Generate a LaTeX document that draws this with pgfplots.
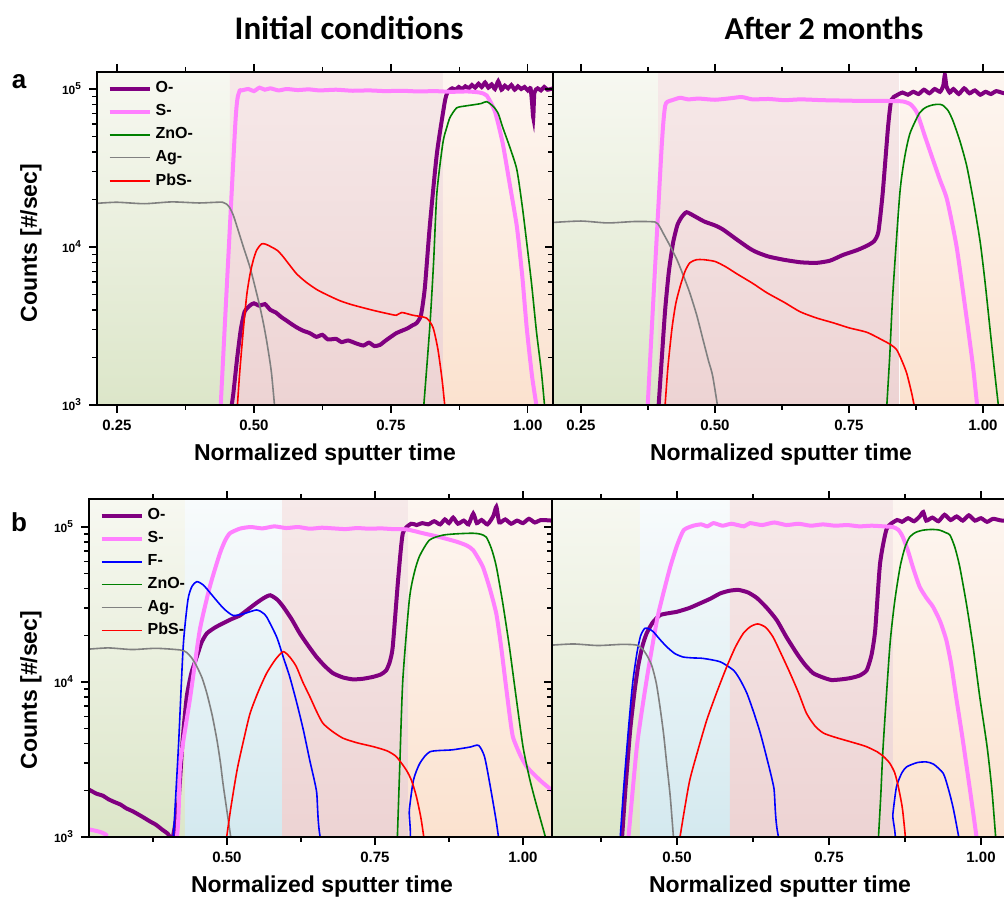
\documentclass[border=0pt]{standalone}
\usepackage{pgfplots}
\pgfplotsset{compat=1.18}
\usepackage{fontspec}
\setmainfont{Liberation Sans}
\newfontfamily\carlito{Carlito}

\definecolor{cO}{HTML}{800080}
\definecolor{cS}{HTML}{FF80FF}
\definecolor{cF}{HTML}{0000FF}
\definecolor{cZn}{HTML}{008000}
\definecolor{cAg}{HTML}{808080}
\definecolor{cPb}{HTML}{FF0000}
\definecolor{gTop}{HTML}{F7F8F1}\definecolor{gBot}{HTML}{DCE6C9}
\definecolor{pTop}{HTML}{F6E9E9}\definecolor{pBot}{HTML}{EDD3D3}
\definecolor{oTop}{HTML}{FDF6F1}\definecolor{oBot}{HTML}{FBE2CF}
\definecolor{bTop}{HTML}{F8FBFC}\definecolor{bBot}{HTML}{D4E9EF}

\pgfplotsset{
  sims panel/.style={
    scale only axis, ymin=1000, axis on top,
    tick align=outside, xtick pos=both, ytick pos=left,
    xticklabel pos=lower,
    xtick={0.25,0.5,0.75,1}, minor xtick={0.125,0.375,0.625,0.875},
    xticklabels={0.25,0.50,0.75,1.00},
    ytick={1000,10000,100000},
    minor ytick={2000,3000,4000,5000,6000,7000,8000,9000,20000,30000,40000,50000,60000,70000,80000,90000,200000},
    yticklabels={10\textsuperscript{3},10\textsuperscript{4},10\textsuperscript{5}},
    major tick length=4pt, minor tick length=2.5pt,
    tick style={black, line width=0.65pt},
    axis line style={line width=1pt},
    xticklabel style={font=\fontsize{7.5}{8}\selectfont\bfseries},
    yticklabel style={font=\fontsize{6}{7}\selectfont\bfseries},
    legend style={draw=none, fill=none, font=\fontsize{8}{9}\selectfont\bfseries,
      at={(0.018,0.99)}, anchor=north west, row sep=0.4pt, inner sep=1pt},
    legend cell align=left,
  },
}
\tikzset{
  pO/.style={cO, line width=2pt, smooth, tension=0.35},
  pS/.style={cS, line width=2pt, smooth, tension=0.35},
  pF/.style={cF, line width=0.8pt, smooth, tension=0.4},
  pZn/.style={cZn, line width=0.8pt, smooth, tension=0.4},
  pAg/.style={cAg, line width=0.8pt, smooth, tension=0.4},
  pPb/.style={cPb, line width=0.8pt, smooth, tension=0.4},
  bgG/.style={draw=none, top color=gTop, bottom color=gBot},
  bgP/.style={draw=none, top color=pTop, bottom color=pBot},
  bgO/.style={draw=none, top color=oTop, bottom color=oBot},
  bgB/.style={draw=none, top color=bTop, bottom color=bBot},
}

\begin{document}
\begin{tikzpicture}
\path[use as bounding box] (0,0) rectangle (502pt,449pt);

% ---------------- a, initial
\begin{axis}[sims panel, ymode=log, at={(48.5pt,246.5pt)}, anchor=south west,
  width=228pt, height=166.5pt, xmin=0.2135, xmax=1.046, ymax=128200,
  legend image code/.code={\draw[#1] (0pt,0pt) -- (20pt,0pt);}]
\addplot[bgG, forget plot] coordinates {(0.2135,1000) (0.2135,128200) (0.456,128200) (0.456,1000)};
\addplot[bgP, forget plot] coordinates {(0.456,1000) (0.456,128200) (0.845,128200) (0.845,1000)};
\addplot[bgO, forget plot] coordinates {(0.845,1000) (0.845,128200) (1.046,128200) (1.046,1000)};
\addplot[pO] coordinates {(0.455,800) (0.462,1150) (0.469,1930) (0.476,3000) (0.483,3900) (0.493,4270) (0.50,4400) (0.51,4250) (0.52,4350) (0.53,4000) (0.54,3850) (0.55,3600) (0.558,3450) (0.566,3300) (0.578,3100) (0.59,2950) (0.602,2850) (0.614,2700) (0.625,2780) (0.635,2600) (0.65,2620) (0.66,2500) (0.672,2560) (0.687,2450) (0.70,2380) (0.71,2480) (0.72,2360) (0.73,2400) (0.74,2550) (0.75,2700) (0.76,2850) (0.77,2950) (0.78,3050) (0.79,3200) (0.797,3300) (0.805,3700) (0.812,5500) (0.821,13500) (0.834,39000) (0.849,85000) (0.855,97000) (0.862,101000) (0.868,99000) (0.874,103000) (0.880,100000) (0.886,104000) (0.892,101000) (0.898,106000) (0.904,102000) (0.910,108000) (0.916,103000) (0.922,110000) (0.928,102000) (0.934,107000) (0.940,100000) (0.946,112000) (0.952,99000) (0.958,105000) (0.964,101000) (0.970,106000) (0.976,99000) (0.982,104000) (0.988,100000) (0.994,103000) (1.000,98000) (1.005,101000) (1.008,80000) (1.010,66000) (1.012,95000) (1.018,101000) (1.024,98000) (1.030,103000) (1.036,99000) (1.046,101000)};
\addplot[pS] coordinates {(0.438,800) (0.466,60000) (0.473,95500) (0.478,98000) (0.49,100000) (0.50,97000) (0.51,102000) (0.52,99000) (0.53,101000) (0.545,98000) (0.56,100000) (0.58,98500) (0.60,99500) (0.62,98000) (0.65,99000) (0.68,97500) (0.71,98000) (0.74,97000) (0.77,97500) (0.80,96500) (0.83,97000) (0.86,96000) (0.89,96500) (0.912,95000) (0.925,91000) (0.94,72000) (0.954,45700) (0.967,25000) (0.98,13500) (0.99,6500) (0.998,3090) (1.008,1500) (1.02,800)};
\addplot[pZn] coordinates {(0.808,800) (0.821,3090) (0.828,8000) (0.834,21900) (0.845,45700) (0.852,57000) (0.858,66100) (0.870,75900) (0.885,78000) (0.900,79400) (0.915,81000) (0.925,83200) (0.937,77600) (0.946,70000) (0.954,57500) (0.967,43000) (0.980,30900) (0.99,18000) (0.998,10700) (1.007,5800) (1.016,2880) (1.025,1600) (1.033,800)};
\addplot[pAg] coordinates {(0.2135,18900) (0.25,19200) (0.30,18800) (0.35,19300) (0.40,19000) (0.443,19200) (0.4545,18000) (0.462,16000) (0.469,13500) (0.48,10200) (0.493,7400) (0.502,5600) (0.511,4170) (0.518,3200) (0.524,2450) (0.532,1600) (0.540,800)};
\addplot[pPb] coordinates {(0.468,800) (0.474,1600) (0.481,3090) (0.487,5000) (0.493,6760) (0.499,8300) (0.505,9550) (0.514,10470) (0.522,10400) (0.532,10000) (0.543,9500) (0.553,8710) (0.565,7700) (0.578,6760) (0.595,6000) (0.615,5370) (0.635,4950) (0.657,4570) (0.68,4300) (0.717,3980) (0.745,3780) (0.76,3700) (0.77,3850) (0.79,3700) (0.815,3550) (0.827,3090) (0.836,2240) (0.844,1400) (0.851,800)};
\legend{O-,S-,ZnO-,Ag-,PbS-}
\end{axis}

% ---------------- a, after 2 months
\begin{axis}[sims panel, ymode=log, at={(276.5pt,246.5pt)}, anchor=south west,
  width=231.5pt, height=166.5pt, xmin=0.1978, xmax=1.0618, ymax=128200,
  yticklabels={}]
\addplot[bgG, forget plot] coordinates {(0.1978,1000) (0.1978,128200) (0.394,128200) (0.394,1000)};
\addplot[bgP, forget plot] coordinates {(0.394,1000) (0.394,128200) (0.843,128200) (0.843,1000)};
\addplot[bgO, forget plot] coordinates {(0.845,1000) (0.845,128200) (1.0618,128200) (1.0618,1000)};
\addplot[pO] coordinates {(0.393,800) (0.400,1800) (0.407,3980) (0.414,7000) (0.422,10700) (0.430,13800) (0.438,15500) (0.447,16600) (0.46,15800) (0.48,14500) (0.50,13700) (0.515,12900) (0.54,11200) (0.565,9770) (0.58,9200) (0.60,8700) (0.627,8320) (0.66,8000) (0.69,7940) (0.715,8200) (0.739,8910) (0.765,9550) (0.784,10200) (0.797,10900) (0.805,12500) (0.813,21900) (0.823,57500) (0.829,85100) (0.839,91200) (0.85,95000) (0.86,92000) (0.87,96000) (0.88,93000) (0.89,99000) (0.90,94000) (0.91,100000) (0.92,96000) (0.926,105000) (0.929,123000) (0.932,104000) (0.938,95000) (0.945,100000) (0.955,93000) (0.965,101000) (0.975,94000) (0.985,98000) (0.995,92000) (1.005,96000) (1.015,93000) (1.025,97000) (1.04,94000) (1.062,95000)};
\addplot[pS] coordinates {(0.373,800) (0.400,40000) (0.407,78000) (0.415,84000) (0.42,85000) (0.435,88000) (0.45,86000) (0.47,87000) (0.50,85500) (0.53,87500) (0.55,89000) (0.57,86000) (0.60,86500) (0.63,85000) (0.66,86000) (0.70,85000) (0.74,84500) (0.78,84000) (0.82,84000) (0.85,83500) (0.865,80000) (0.877,70800) (0.892,50000) (0.907,35500) (0.92,26500) (0.933,20000) (0.951,10000) (0.970,3470) (0.982,1700) (0.992,800)};
\addplot[pZn] coordinates {(0.819,800) (0.826,2000) (0.832,5130) (0.845,21900) (0.854,37000) (0.864,52500) (0.882,70800) (0.895,77000) (0.907,79400) (0.917,80000) (0.925,79000) (0.935,73000) (0.944,63100) (0.957,47000) (0.970,32400) (0.983,19000) (0.995,10700) (1.004,6000) (1.013,3090) (1.022,1600) (1.032,800)};
\addplot[pAg] coordinates {(0.1978,14300) (0.25,14600) (0.30,14200) (0.35,14500) (0.388,14400) (0.396,13600) (0.403,12300) (0.416,10200) (0.429,8320) (0.441,6600) (0.453,5130) (0.466,3700) (0.478,2570) (0.488,1900) (0.496,1510) (0.509,800)};
\addplot[pPb] coordinates {(0.405,800) (0.412,1700) (0.420,3090) (0.427,4400) (0.435,5620) (0.444,7000) (0.453,7940) (0.465,8300) (0.478,8320) (0.50,8100) (0.52,7500) (0.541,6760) (0.57,5900) (0.597,5130) (0.63,4450) (0.659,3890) (0.69,3550) (0.721,3310) (0.75,3080) (0.784,2880) (0.813,2570) (0.827,2420) (0.839,2240) (0.849,1900) (0.858,1580) (0.868,1150) (0.877,800)};
\end{axis}

% ---------------- b, initial
\begin{axis}[sims panel, ymode=log, at={(44.5pt,30.5pt)}, anchor=south west,
  width=231.5pt, height=169pt, xmin=0.2669, xmax=1.049, ymax=151700,
  legend image code/.code={\draw[#1] (0pt,0pt) -- (20pt,0pt);}]
\addplot[bgG, forget plot] coordinates {(0.2669,1000) (0.2669,151700) (0.429,151700) (0.429,1000)};
\addplot[bgB, forget plot] coordinates {(0.429,1000) (0.429,151700) (0.593,151700) (0.593,1000)};
\addplot[bgP, forget plot] coordinates {(0.593,1000) (0.593,151700) (0.806,151700) (0.806,1000)};
\addplot[bgO, forget plot] coordinates {(0.806,1000) (0.806,151700) (1.049,151700) (1.049,1000)};
\addplot[pO] coordinates {(0.2669,2020) (0.28,1900) (0.29,1850) (0.30,1750) (0.31,1680) (0.32,1620) (0.33,1530) (0.34,1470) (0.35,1400) (0.36,1330) (0.37,1260) (0.38,1200) (0.39,1120) (0.40,1050) (0.408,980) (0.418,1700) (0.425,4200) (0.432,8040) (0.44,11500) (0.449,14550) (0.457,18000) (0.466,20600) (0.48,22500) (0.494,24000) (0.508,25500) (0.522,26900) (0.536,29500) (0.550,32400) (0.562,34800) (0.573,36300) (0.585,34000) (0.595,30600) (0.609,25500) (0.623,20600) (0.637,17200) (0.651,14550) (0.665,12700) (0.679,11400) (0.696,10700) (0.713,10400) (0.730,10500) (0.747,10800) (0.760,11200) (0.769,11900) (0.775,13500) (0.780,16900) (0.789,45500) (0.797,91200) (0.811,105000) (0.82,103000) (0.83,106000) (0.84,104000) (0.85,109000) (0.86,104000) (0.868,112000) (0.875,106000) (0.882,115000) (0.89,105000) (0.90,110000) (0.908,104000) (0.916,122000) (0.922,106000) (0.93,111000) (0.94,104000) (0.95,118000) (0.955,135000) (0.96,107000) (0.97,112000) (0.98,105000) (0.99,110000) (1.00,106000) (1.01,113000) (1.02,107000) (1.03,111000) (1.049,110000)};
\addplot[pS] coordinates {(0.2669,1120) (0.285,1080) (0.296,1030) (0.30,900) (0.409,800) (0.421,2990) (0.438,8040) (0.454,21600) (0.471,41200) (0.488,67600) (0.497,82000) (0.505,91200) (0.522,97700) (0.54,100000) (0.56,98000) (0.58,101000) (0.60,98500) (0.62,100000) (0.64,97500) (0.66,99000) (0.68,98000) (0.70,97000) (0.72,98500) (0.74,97500) (0.76,98000) (0.78,97000) (0.804,96500) (0.831,91200) (0.860,86000) (0.888,80400) (0.905,76000) (0.916,70800) (0.932,55600) (0.944,40000) (0.955,27500) (0.963,17000) (0.970,10300) (0.977,6300) (0.983,4420) (0.995,3400) (1.007,2820) (1.030,2300) (1.049,2000)};
\addplot[pF] coordinates {(0.408,800) (0.418,3830) (0.426,16900) (0.434,33900) (0.441,41500) (0.449,44400) (0.460,42300) (0.477,35500) (0.494,29900) (0.510,26900) (0.527,27500) (0.550,29200) (0.560,28000) (0.567,26300) (0.584,19500) (0.595,14500) (0.606,10800) (0.618,7300) (0.629,4900) (0.640,3100) (0.651,2000) (0.668,800) (0.801,800) (0.808,1500) (0.815,2330) (0.826,3000) (0.843,3550) (0.88,3650) (0.91,3800) (0.925,3900) (0.935,3300) (0.944,2200) (0.955,1250) (0.962,800)};
\addplot[pZn] coordinates {(0.787,800) (0.792,3000) (0.797,10300) (0.808,33900) (0.816,50000) (0.825,64600) (0.842,82400) (0.865,88700) (0.89,90500) (0.915,91200) (0.928,90000) (0.938,86100) (0.947,72000) (0.955,55500) (0.966,32000) (0.977,16900) (0.988,8200) (1.0,3830) (1.011,2400) (1.022,1650) (1.045,800)};
\addplot[pAg] coordinates {(0.2669,16300) (0.30,16600) (0.34,16200) (0.38,16500) (0.421,16100) (0.432,15500) (0.441,14200) (0.449,12600) (0.458,10600) (0.466,8450) (0.475,6100) (0.483,4230) (0.489,3000) (0.494,2110) (0.51,800)};
\addplot[pPb] coordinates {(0.496,800) (0.506,1500) (0.517,2700) (0.528,4200) (0.539,6280) (0.553,8700) (0.567,11400) (0.582,14000) (0.595,15700) (0.606,14500) (0.617,12600) (0.628,10000) (0.640,8040) (0.651,6500) (0.662,5420) (0.678,4800) (0.696,4340) (0.72,4050) (0.747,3830) (0.77,3600) (0.786,3300) (0.803,2700) (0.812,2300) (0.820,1820) (0.828,1300) (0.836,800)};
\legend{O-,S-,F-,ZnO-,Ag-,PbS-}
\end{axis}

% ---------------- b, after 2 months
\begin{axis}[sims panel, ymode=log, at={(276pt,30.5pt)}, anchor=south west,
  width=232pt, height=169pt, xmin=0.2944, xmax=1.0576, ymax=151700,
  yticklabels={}]
\addplot[bgG, forget plot] coordinates {(0.2944,1000) (0.2944,151700) (0.439,151700) (0.439,1000)};
\addplot[bgB, forget plot] coordinates {(0.439,1000) (0.439,151700) (0.587,151700) (0.587,1000)};
\addplot[bgP, forget plot] coordinates {(0.587,1000) (0.587,151700) (0.855,151700) (0.855,1000)};
\addplot[bgO, forget plot] coordinates {(0.855,1000) (0.855,151700) (1.0576,151700) (1.0576,1000)};
\addplot[pO] coordinates {(0.408,800) (0.415,2000) (0.423,4900) (0.430,8600) (0.436,12600) (0.443,17000) (0.450,20600) (0.460,24200) (0.472,27000) (0.486,27800) (0.500,28400) (0.52,30000) (0.538,32200) (0.555,34500) (0.571,37300) (0.586,38800) (0.601,39300) (0.617,37800) (0.632,34700) (0.648,30000) (0.664,25100) (0.680,19500) (0.697,15300) (0.710,13000) (0.724,11400) (0.740,10700) (0.754,10300) (0.770,10400) (0.785,10600) (0.800,11000) (0.812,11900) (0.820,15000) (0.826,21600) (0.834,58300) (0.845,97700) (0.862,111000) (0.87,108000) (0.88,114000) (0.89,109000) (0.90,118000) (0.905,125000) (0.91,110000) (0.92,115000) (0.93,109000) (0.94,120000) (0.95,111000) (0.96,117000) (0.97,110000) (0.98,119000) (0.99,110000) (1.00,114000) (1.01,108000) (1.02,113000) (1.035,110000) (1.0576,112000)};
\addplot[pS] coordinates {(0.418,800) (0.434,3830) (0.450,10300) (0.467,25100) (0.478,38000) (0.489,55500) (0.50,76000) (0.511,95500) (0.527,102000) (0.54,104000) (0.55,101000) (0.56,106000) (0.575,102000) (0.59,105000) (0.61,101000) (0.62,106000) (0.64,103000) (0.66,107000) (0.68,103000) (0.70,105000) (0.72,102000) (0.74,104000) (0.76,102000) (0.78,103000) (0.80,101000) (0.82,102000) (0.84,101000) (0.855,100000) (0.864,96000) (0.871,87000) (0.880,70000) (0.888,55000) (0.899,41200) (0.91,35000) (0.921,30600) (0.933,24500) (0.943,18600) (0.951,13000) (0.959,8040) (0.969,4500) (0.978,2570) (0.987,1450) (0.996,800)};
\addplot[pF] coordinates {(0.405,800) (0.412,2000) (0.420,4900) (0.427,9800) (0.434,15300) (0.440,19800) (0.447,22200) (0.454,22000) (0.461,21100) (0.472,18800) (0.483,16900) (0.496,15300) (0.510,14500) (0.527,14300) (0.543,14200) (0.571,13500) (0.593,11900) (0.604,10300) (0.615,8450) (0.626,6400) (0.637,4680) (0.648,3200) (0.659,2110) (0.68,800) (0.849,800) (0.855,1400) (0.861,2110) (0.870,2600) (0.878,2840) (0.895,3020) (0.91,3050) (0.922,2950) (0.938,2570) (0.947,2000) (0.955,1490) (0.968,800)};
\addplot[pZn] coordinates {(0.830,800) (0.835,1800) (0.839,3830) (0.850,16900) (0.858,33000) (0.867,55500) (0.875,74000) (0.883,86500) (0.893,92500) (0.905,95500) (0.92,96500) (0.932,95500) (0.942,92000) (0.949,88700) (0.957,74000) (0.965,55500) (0.976,32000) (0.987,16900) (0.998,8000) (1.010,3830) (1.018,2000) (1.026,800)};
\addplot[pAg] coordinates {(0.2944,17300) (0.33,17600) (0.37,17200) (0.41,17500) (0.434,17300) (0.444,16200) (0.452,14500) (0.459,12600) (0.466,9800) (0.472,6920) (0.478,4600) (0.483,2990) (0.489,1800) (0.496,800)};
\addplot[pPb] coordinates {(0.501,800) (0.511,1400) (0.521,2330) (0.535,3700) (0.549,5690) (0.565,8500) (0.582,12600) (0.596,16800) (0.609,20600) (0.621,22800) (0.633,23700) (0.646,22500) (0.658,19500) (0.672,15000) (0.686,11400) (0.700,8500) (0.713,6280) (0.727,5200) (0.741,4680) (0.76,4400) (0.785,4120) (0.81,3850) (0.829,3550) (0.840,3300) (0.850,2990) (0.858,2600) (0.864,2110) (0.871,1500) (0.878,800)};
\end{axis}

% ---------------- texts
\node[font=\carlito\bfseries\fontsize{16.5}{18}\selectfont] at (174.5pt,435pt) {Initial conditions};
\node[font=\carlito\bfseries\fontsize{16}{18}\selectfont] at (412pt,435pt) {After 2 months};
\node[font=\bfseries\fontsize{13}{14}\selectfont] at (9.5pt,408pt) {a};
\node[font=\bfseries\fontsize{13}{14}\selectfont] at (9.5pt,188pt) {b};
\node[font=\bfseries\fontsize{11.5}{13}\selectfont, rotate=90] at (15.5pt,327.5pt) {Counts [\#/sec]};
\node[font=\bfseries\fontsize{11.5}{13}\selectfont, rotate=90] at (15.5pt,104pt) {Counts [\#/sec]};
\node[font=\bfseries\fontsize{11.5}{13}\selectfont] at (162.5pt,221.5pt) {Normalized sputter time};
\node[font=\bfseries\fontsize{11.5}{13}\selectfont] at (390.5pt,221.5pt) {Normalized sputter time};
\node[font=\bfseries\fontsize{11.5}{13}\selectfont] at (161pt,5.5pt) {Normalized sputter time};
\node[font=\bfseries\fontsize{11.5}{13}\selectfont] at (390pt,5.5pt) {Normalized sputter time};
\end{tikzpicture}
\end{document}
